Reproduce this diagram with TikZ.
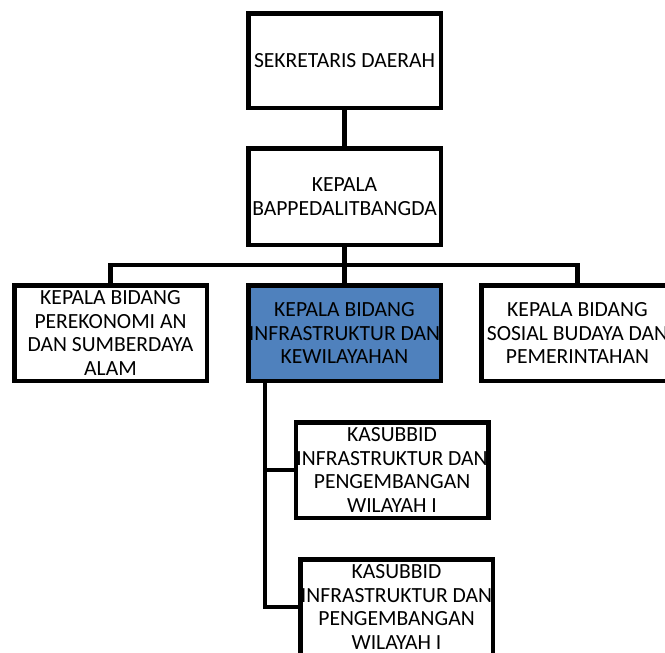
\documentclass[tikz,border=0pt]{standalone}
\usepackage{fontspec}
\setmainfont{Carlito}
\usetikzlibrary{calc,positioning}
\definecolor{kotakbiru}{RGB}{79,129,189}
\tikzset{
  box/.style     = {draw, line width=4.5pt, fill=white, inner sep=0pt,
                    minimum width=192.5pt, minimum height=95.5pt,
                    align=center, font=\fontsize{21.6}{23.4}\selectfont},
  activebox/.style = {box, fill=kotakbiru},
  link/.style    = {line width=4.5pt},
}

\begin{document}
\begin{tikzpicture}[x=1pt,y=1pt]
  \useasboundingbox (0,0) rectangle (665,-653);

  \node[box,minimum height=94.5pt] (sekda)  at (344.5,-60.5) {SEKRETARIS DAERAH};
  \node[box,minimum height=96.5pt] (kepala) at (344.5,-196.5) {KEPALA\\BAPPEDALITBANGDA};

  \node[box]       (ekonomi) at (110.5,-333) {KEPALA BIDANG\\PEREKONOMI AN\\DAN SUMBERDAYA\\ALAM};
  \node[activebox] (infra)   at (344.5,-333) {KEPALA BIDANG\\INFRASTRUKTUR DAN\\KEWILAYAHAN};
  \node[box]       (sosial)  at (577.5,-333) {KEPALA BIDANG\\SOSIAL BUDAYA DAN\\PEMERINTAHAN};

  \node[box] (wil1) at (392,-470)   {KASUBBID\\INFRASTRUKTUR DAN\\PENGEMBANGAN\\WILAYAH I};
  \node[box] (wil2) at (396.5,-607) {KASUBBID\\INFRASTRUKTUR DAN\\PENGEMBANGAN\\WILAYAH I};

  \coordinate (bus)   at (344.5,-265);
  \coordinate (trunk) at ($(infra.south west)+(18.75,0)$);

  \draw[link] (sekda) -- (kepala);
  \draw[link] (kepala) -- (infra);
  \draw[link] (ekonomi.north) |- (bus) -| (sosial.north);
  \draw[link] (trunk) |- (wil1.west);
  \draw[link] (trunk) |- (wil2.west);
\end{tikzpicture}
\end{document}
